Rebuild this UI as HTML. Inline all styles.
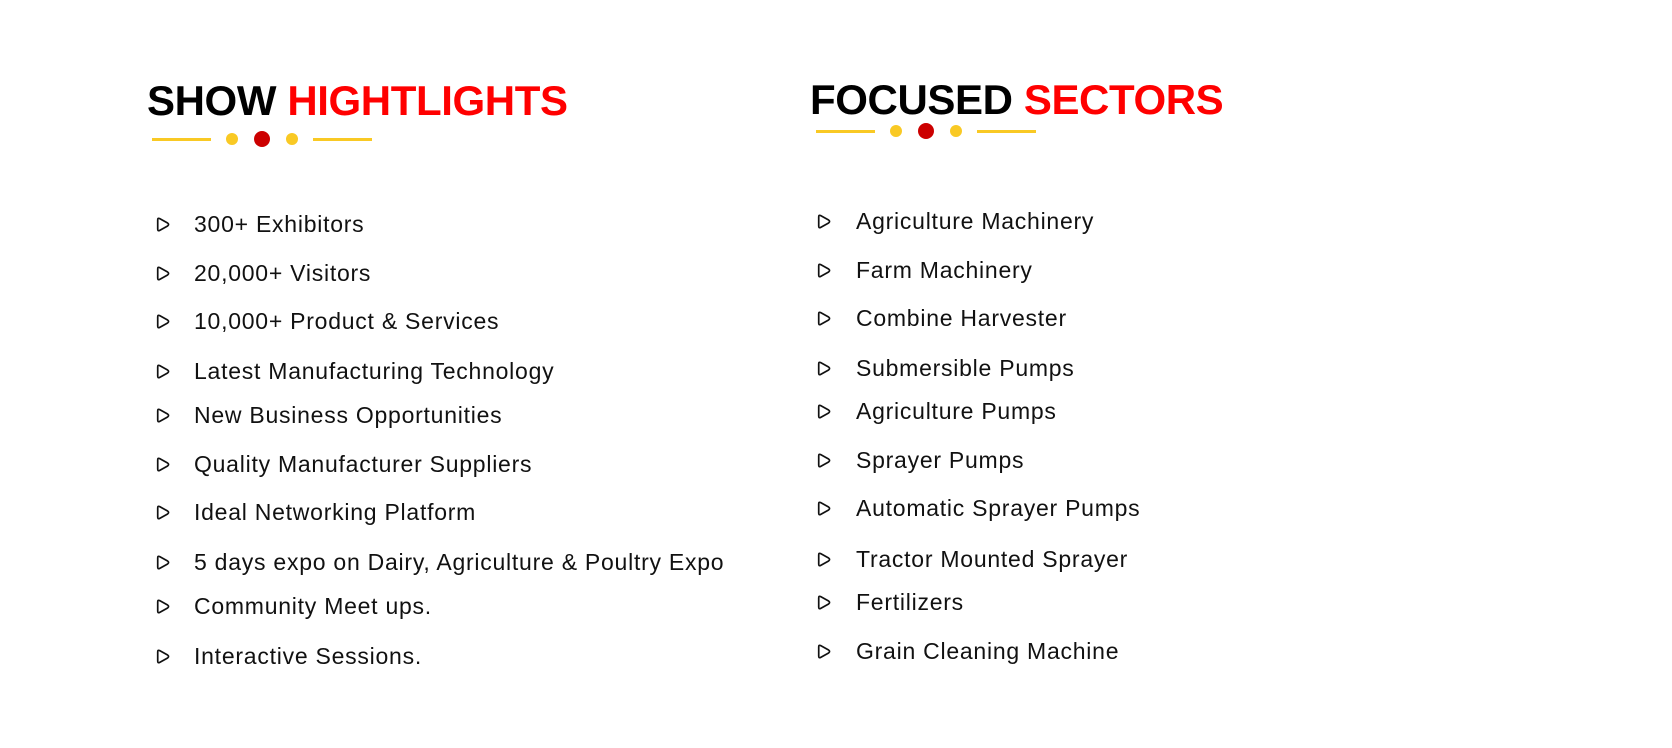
<!DOCTYPE html>
<html><head><meta charset="utf-8"><style>
html,body{margin:0;padding:0;background:#fff;}
body{width:1672px;height:748px;position:relative;overflow:hidden;font-family:"Liberation Sans",sans-serif;}
.t{position:absolute;font-weight:bold;font-size:42px;line-height:1;white-space:nowrap;color:#000;letter-spacing:-0.4px}
.t span{color:#ff0000}
.ln{position:absolute;height:3px;background:#f9c924}
.dot{position:absolute;border-radius:50%}
.it{position:absolute;font-size:23px;color:#111;white-space:nowrap;line-height:1;letter-spacing:0.75px}
.ic{position:absolute;width:17px;height:17px}
</style></head><body>
<div class="t" style="left:147px;top:80px">SHOW <span>HIGHTLIGHTS</span></div>
<div class="t" style="left:810px;top:79px">FOCUSED <span>SECTORS</span></div>
<div id="deco"></div>
<div id="lists"></div>
<script>
const left=["300+ Exhibitors","20,000+ Visitors","10,000+ Product & Services","Latest Manufacturing Technology","New Business Opportunities","Quality Manufacturer Suppliers","Ideal Networking Platform","5 days expo on Dairy, Agriculture & Poultry Expo","Community Meet ups.","Interactive Sessions."];
const leftY=[224,273,321,371,415,464,512,562,606,656];
const right=["Agriculture Machinery","Farm Machinery","Combine Harvester","Submersible Pumps","Agriculture Pumps","Sprayer Pumps","Automatic Sprayer Pumps","Tractor Mounted Sprayer","Fertilizers","Grain Cleaning Machine"];
const rightY=[221,270,318,368,411,460,508,559,602,651];
const L=document.getElementById('lists');
function add(items,ys,ix,tx,pre){
 items.forEach((s,i)=>{
  const ic=document.createElementNS('http://www.w3.org/2000/svg','svg');
  ic.setAttribute('class','ic');ic.setAttribute('viewBox','0 0 16 16');
  ic.style.left=ix+'px';ic.style.top=(ys[i]-8)+'px';
  
  
  ic.innerHTML='<path d="M3.5 3.6 Q3.5 1.5 5.4 2.5 L12.8 6.6 Q14.6 8 12.8 9.4 L5.4 13.5 Q3.5 14.5 3.5 12.4 Z" fill="none" stroke="#111" stroke-width="1.6" stroke-linejoin="round"/>';
  L.appendChild(ic);
  const d=document.createElement('div');d.className='it';d.textContent=s;
  d.style.left=tx+'px';d.style.top=(ys[i]-11)+'px';
  
  
  L.appendChild(d);
 });
}
add(left,leftY,154,194,'highlight');
add(right,rightY,815,856,'sector');
const D=document.getElementById('deco');
function deco(x,y,pre){
 const parts=[['ln',x,y-1.5,59,3,'#f9c924'],['dot',x+74,y-6,12,12,'#f9c924'],['dot',x+102,y-8,16,16,'#cc0000'],['dot',x+134,y-6,12,12,'#f9c924'],['ln',x+161,y-1.5,59,3,'#f9c924']];
 parts.forEach(p=>{const e=document.createElement('div');e.className=p[0];
  e.style.cssText=`left:${p[1]}px;top:${p[2]}px;width:${p[3]}px;height:${p[4]}px;background:${p[5]}`;
  
  
  D.appendChild(e);});
}
deco(152,139,'highlights');
deco(816,131,'sectors');
</script>
</body></html>
